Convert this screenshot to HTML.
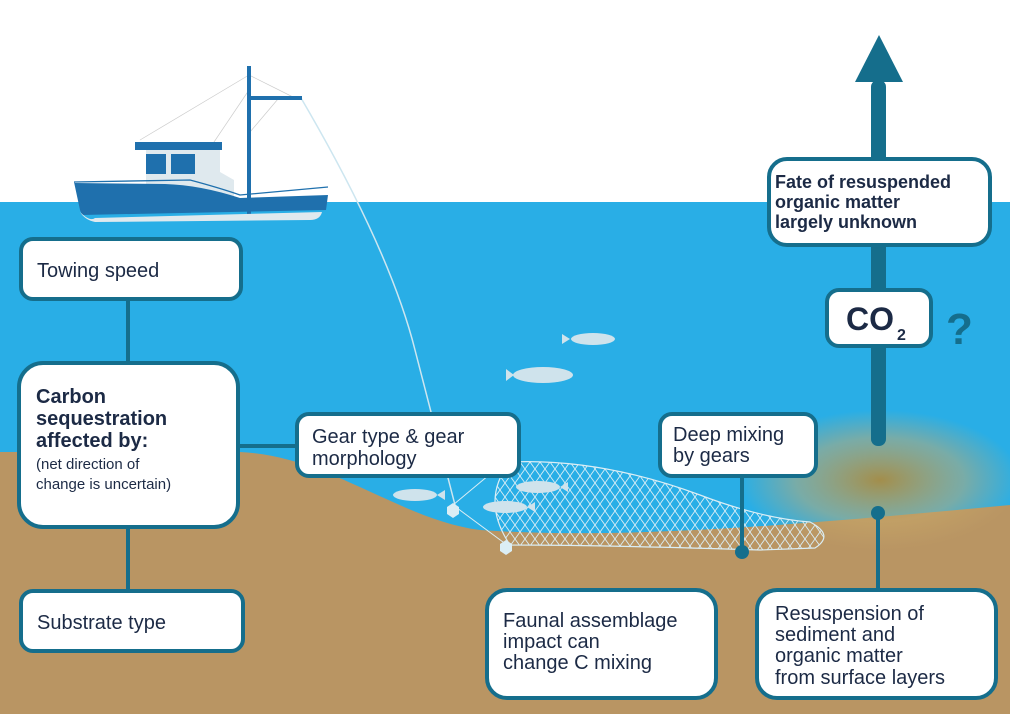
<!DOCTYPE html>
<html><head><meta charset="utf-8"><style>
html,body{margin:0;padding:0;background:#fff}
svg{display:block}
text{font-family:"Liberation Sans",sans-serif;fill:#1c2a45}
</style></head><body>
<svg width="1010" height="714" viewBox="0 0 1010 714" xmlns="http://www.w3.org/2000/svg">
<defs>
<radialGradient id="cloud" cx="0.5" cy="0.5" r="0.5">
<stop offset="0" stop-color="#b08a3a" stop-opacity="0.9"/>
<stop offset="0.6" stop-color="#c9a968" stop-opacity="0.5"/>
<stop offset="1" stop-color="#c9a968" stop-opacity="0"/>
</radialGradient>
<pattern id="mesh" width="10" height="14" patternUnits="userSpaceOnUse">
<path d="M0,0 L10,14 M10,0 L0,14" stroke="#dbeef5" stroke-width="0.9"/>
</pattern>
</defs>
<rect width="1010" height="714" fill="#fff"/>
<rect y="202" width="1010" height="512" fill="#29aee6"/>
<path d="M0,452 L240,452 C330,456 400,520 480,530 C620,540 800,525 1010,505 L1010,714 L0,714 Z" fill="#b99563"/>
<ellipse cx="880" cy="480" rx="140" ry="70" fill="url(#cloud)"/>
<g>
<line x1="249" y1="75" x2="140" y2="140" stroke="#ccc" stroke-width="0.7"/>
<line x1="249" y1="75" x2="295" y2="98" stroke="#ccc" stroke-width="0.7"/>
<line x1="249" y1="90" x2="212" y2="145" stroke="#ccc" stroke-width="0.7"/>
<line x1="278" y1="99" x2="250" y2="132" stroke="#ccc" stroke-width="0.7"/>
<path d="M301,98 Q390,250 415,350 L455,505" stroke="#cde6f0" stroke-width="1.5" fill="none"/>
<rect x="247" y="66" width="4" height="150" fill="#1f70ad"/>
<rect x="249" y="96" width="53" height="4" fill="#1f70ad"/>
<path d="M146,150 L220,150 L220,172 L234,180 L234,210 L146,210 Z" fill="#dfe9ee"/>
<rect x="135" y="142" width="87" height="8" fill="#1f70ad"/>
<rect x="146" y="154" width="20" height="20" fill="#1f70ad"/>
<rect x="171" y="154" width="24" height="20" fill="#1f70ad"/>
<path d="M74,182 L190,180 Q220,188 240,195 L328,187" stroke="#1f70ad" fill="none" stroke-width="1.3"/>
<path d="M74,182 L80,210 L82,215 L326,210 L328,195 L240,198 Q200,185 165,184 L75,183 Z" fill="#1f70ad"/>
<path d="M80,212 Q90,222 95,218 L322,212 Q320,220 310,220 L95,222 Q85,220 80,212Z" fill="#dfe9ee"/>
</g>
<path d="M510,462 Q600,458 700,495 Q760,518 810,522 Q835,535 815,548 L760,550 Q600,545 510,545 Q480,500 510,462 Z" fill="url(#mesh)" stroke="#dbeef5" stroke-width="1.2"/>
<path d="M453,505 L507,545 M453,505 L495,470" stroke="#dbeef5" stroke-width="1"/>
<polygon points="453,503 459,507 459,514 453,518 447,514 447,507" fill="#dbeef5"/>
<polygon points="506,540 512,544 512,551 506,555 500,551 500,544" fill="#dbeef5"/>
<g fill="#cfe3ec">
<ellipse cx="593" cy="339" rx="22" ry="6"/><polygon points="570,339 562,334 562,344"/>
<ellipse cx="543" cy="375" rx="30" ry="8"/><polygon points="514,375 506,369 506,381"/>
<ellipse cx="415" cy="495" rx="22" ry="6"/><polygon points="437,495 445,490 445,500"/>
<ellipse cx="538" cy="487" rx="22" ry="6"/><polygon points="560,487 568,482 568,492"/>
<ellipse cx="505" cy="507" rx="22" ry="6"/><polygon points="527,507 535,502 535,512"/>
</g>
<g stroke="#156e8c" stroke-width="4">
<line x1="128" y1="300" x2="128" y2="362"/>
<line x1="128" y1="528" x2="128" y2="590"/>
<line x1="238" y1="446" x2="298" y2="446"/>
<line x1="742" y1="450" x2="742" y2="550"/>
<line x1="878" y1="515" x2="878" y2="590"/>
</g>
<circle cx="742" cy="552" r="7" fill="#156e8c"/>
<circle cx="878" cy="513" r="7" fill="#156e8c"/>
<rect x="871" y="80" width="15" height="366" rx="7" fill="#156e8c"/>
<polygon points="879,35 903,82 855,82" fill="#156e8c"/>
<g fill="#fff" stroke="#156e8c" stroke-width="4">
<rect x="21" y="239" width="220" height="60" rx="12"/>
<rect x="19" y="363" width="219" height="164" rx="24"/>
<rect x="21" y="591" width="222" height="60" rx="12"/>
<rect x="297" y="414" width="222" height="62" rx="12"/>
<rect x="660" y="414" width="156" height="62" rx="12"/>
<rect x="487" y="590" width="229" height="108" rx="20"/>
<rect x="757" y="590" width="239" height="108" rx="20"/>
<rect x="769" y="159" width="221" height="86" rx="18"/>
<rect x="827" y="290" width="104" height="56" rx="12"/>
</g>
<g font-size="20">
<text x="37" y="277">Towing speed</text>
<text x="37" y="629">Substrate type</text>
<text x="312" y="443">Gear type &amp; gear</text>
<text x="312" y="465">morphology</text>
<text x="673" y="441">Deep mixing</text>
<text x="673" y="462">by gears</text>
<text x="503" y="627">Faunal assemblage</text>
<text x="503" y="648">impact can</text>
<text x="503" y="669">change C mixing</text>
<text x="775" y="620">Resuspension of</text>
<text x="775" y="641">sediment and</text>
<text x="775" y="662">organic matter</text>
<text x="775" y="684">from surface layers</text>
</g>
<g font-size="20" font-weight="bold">
<text x="36" y="403">Carbon</text>
<text x="36" y="425">sequestration</text>
<text x="36" y="447">affected by:</text>
<text x="775" y="188" font-size="18">Fate of resuspended</text>
<text x="775" y="208" font-size="18">organic matter</text>
<text x="775" y="228" font-size="18">largely unknown</text>
</g>
<text x="36" y="469" font-size="15">(net direction of</text>
<text x="36" y="489" font-size="15">change is uncertain)</text>
<text x="846" y="330" font-size="32" font-weight="bold">CO</text>
<text x="897" y="340" font-size="16" font-weight="bold">2</text>
<text x="946" y="344" font-size="44" font-weight="bold" style="fill:#156e8c">?</text>
</svg>
</body></html>
